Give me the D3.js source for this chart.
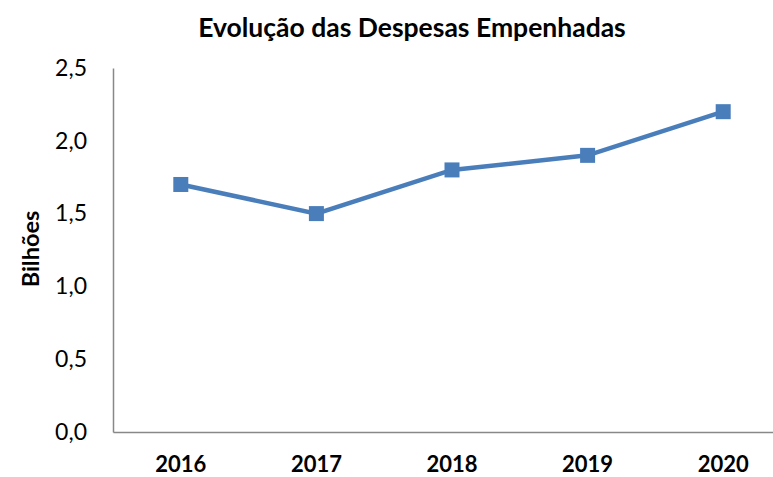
<!DOCTYPE html>
<html>
<head>
<meta charset="utf-8">
<script src="https://cdn.jsdelivr.net/npm/d3@7"></script>
<style>
  body { margin: 0; background: #fff; }
  svg text { font-family: Lato, "Open Sans", sans-serif; fill: #000; }
</style>
</head>
<body>
<svg id="chart" width="773" height="477"></svg>
<script>
// Data
var anos = ["2016", "2017", "2018", "2019", "2020"];
var despesas = [1.7, 1.5, 1.8, 1.9, 2.2];
var yTicks = [0, 0.5, 1.0, 1.5, 2.0, 2.5];

var svg = d3.select("#chart");
var margin_left = 113, margin_top = 68, plot_bottom = 432;

// Scales
var xscale = d3.scaleBand()
  .domain(anos)
  .range([margin_left, 791]);
var yscale = d3.scaleLinear()
  .domain([0, 2.5])
  .range([plot_bottom, margin_top]);

var fmt = function (v) { return d3.format(".1f")(v).replace(".", ","); };

// Title
svg.append("text")
  .attr("x", 412)
  .attr("y", 37)
  .attr("text-anchor", "middle")
  .style("font-size", "26.5px")
  .style("font-weight", "bold")
  .text("Evolução das Despesas Empenhadas");

// Axes
var yaxis = svg.append("g")
  .attr("transform", "translate(" + margin_left + ",0)")
  .call(d3.axisLeft(yscale).tickValues(yTicks).tickFormat(fmt).tickSize(0).tickPadding(26));
yaxis.select(".domain").attr("stroke", "#888").attr("stroke-width", 1.5);
yaxis.selectAll("text").style("font-size", "23px").attr("fill", "#000");

var xaxis = svg.append("g")
  .attr("transform", "translate(0," + plot_bottom + ")")
  .call(d3.axisBottom(xscale).tickSize(0).tickPadding(24));
xaxis.select(".domain").attr("stroke", "#888").attr("stroke-width", 1.5);
xaxis.selectAll("text").style("font-size", "22px").style("font-weight", "bold").attr("fill", "#000");

// Y title
svg.append("text")
  .attr("transform", "translate(39,249) rotate(-90)")
  .attr("text-anchor", "middle")
  .style("font-size", "23.5px")
  .style("font-weight", "bold")
  .text("Bilhões");

var cx = function (d, i) { return xscale(anos[i]) + xscale.bandwidth() / 2; };

// Line
svg.append("path")
  .attr("fill", "none")
  .attr("stroke", "#4a7ebb")
  .attr("stroke-width", 4.5)
  .attr("d", d3.line()
    .x(cx)
    .y(function (d) { return yscale(d); })
    (despesas));

// Markers
svg.selectAll("rect.marker")
  .data(despesas)
  .enter()
  .append("rect")
  .classed("marker", true)
  .attr("x", function (d, i) { return cx(d, i) - 7.5; })
  .attr("y", function (d) { return yscale(d) - 7.5; })
  .attr("width", 15)
  .attr("height", 15)
  .attr("fill", "#4a7ebb");
</script>
</body>
</html>
